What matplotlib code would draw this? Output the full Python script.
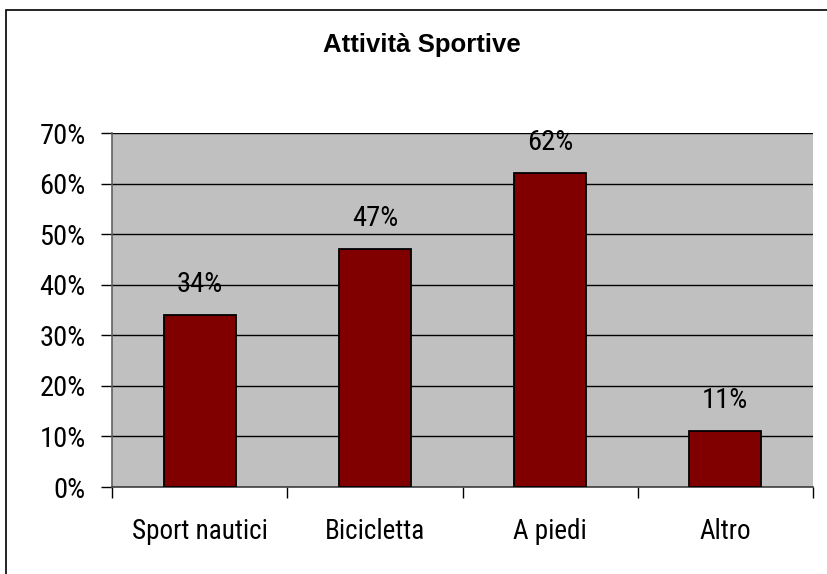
import matplotlib
matplotlib.use("Agg")
import matplotlib.pyplot as plt
from matplotlib.ticker import PercentFormatter, FixedLocator
from matplotlib.patches import Rectangle

categories = ["Sport nautici", "Bicicletta", "A piedi", "Altro"]
values = [34, 47, 62, 11]
labels = ["34%", "47%", "62%", "11%"]

plt.rcParams['font.family'] = ['Roboto Condensed', 'Liberation Sans', 'DejaVu Sans']

W, H = 827, 574
fig = plt.figure(figsize=(W/100, H/100), dpi=100)
fig.patch.set_facecolor('white')
# outer border
fig.add_artist(Rectangle((5.5/W, -0.1), 1.2, (H-9.5)/H + 0.1, transform=fig.transFigure,
                         fill=False, edgecolor='black', linewidth=1.2))

left, right, top, bottom = 112, 813, 133, 487
ax = fig.add_axes([left/W, 1-bottom/H, (right-left)/W, (bottom-top)/H])
ax.set_facecolor('#C0C0C0')
x = list(range(len(categories)))
ax.bar(x, values, width=0.41, color='#800000', edgecolor='black', linewidth=1.3, zorder=3)
ax.set_xlim(-0.5, len(categories)-0.5)
ax.set_ylim(0, 70)
ax.set_yticks(range(0, 71, 10))
ax.yaxis.set_major_formatter(PercentFormatter(decimals=0))
ax.grid(axis='y', color='black', linewidth=1.0, zorder=1)
ax.set_axisbelow(True)
ax.set_xticks(x)
ax.set_xticklabels(categories, fontsize=19.5)
ax.tick_params(axis='x', which='major', length=0, pad=22)
ax.xaxis.set_minor_locator(FixedLocator([i - 0.5 for i in range(len(categories)+1)]))
ax.tick_params(axis='x', which='minor', length=8, width=1, color='black', direction='out')
ax.tick_params(axis='y', length=8, width=1, labelsize=20.5, pad=11)
for s in ['top', 'right']:
    ax.spines[s].set_visible(False)
ax.spines['left'].set_color('#606060')
ax.spines['bottom'].set_color('#404040')
ax.spines['left'].set_linewidth(1.2)
ax.spines['bottom'].set_linewidth(1.2)

for xi, v, lab in zip(x, values, labels):
    ax.annotate(lab, (xi, v), xytext=(0, 12.5), textcoords='offset points',
                ha='center', va='bottom', fontsize=20.5)

fig.text(422/W, 1-45/H, "Attività Sportive", ha='center', va='center',
         fontsize=18.5, fontweight='bold', family=['Liberation Sans', 'DejaVu Sans'])

fig.savefig("out.png", dpi=100)
